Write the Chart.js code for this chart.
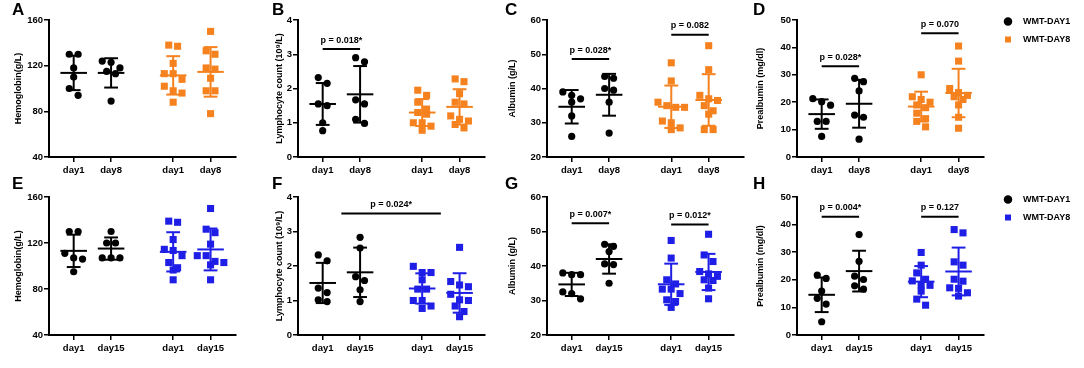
<!DOCTYPE html>
<html>
<head>
<meta charset="utf-8">
<script src="https://cdn.jsdelivr.net/npm/chart.js@4.4.0/dist/chart.umd.min.js"></script>
<style>
  body { margin: 0; width: 1084px; height: 368px; background: #fff; position: relative; overflow: hidden; }
  canvas { position: absolute; }
  .tag { position: absolute; font: bold 17px/17px "Liberation Sans", Arial, sans-serif; color: #000; }
</style>
</head>
<body>
<script>
// categories and series
const days8 = ['day1', 'day8', 'day1', 'day8'];
const days15 = ['day1', 'day15', 'day1', 'day15'];
const seriesNames = ['WMT-DAY1', 'WMT-DAY8'];

// each panel: [group1 day1, group1 dayN, group2 day1, group2 dayN]
const hemoglobinDay8 = [
    [130, 130, 118, 110, 100, 94],
    [123, 124, 118, 115, 113, 89],
    [138, 137, 122, 113, 113, 108, 102, 98, 96, 88],
    [150, 133, 130, 118, 117, 109, 98, 98, 78]
];
const lymphocyteDay8 = [
    [2.32, 2.15, 1.55, 1.5, 1.0, 0.77],
    [2.9, 2.78, 1.67, 1.55, 1.1, 0.98],
    [1.95, 1.8, 1.6, 1.4, 1.3, 1.25, 1.0, 1.0, 0.9, 0.78],
    [2.28, 2.2, 1.85, 1.6, 1.55, 1.2, 1.1, 1.05, 0.95, 0.85]
];
const albuminDay8 = [
    [39, 38, 37, 36, 32, 26],
    [43.5, 43, 40, 39.5, 36, 27],
    [47.5, 42.2, 36, 35, 34.5, 34.5, 30.5, 30, 28.5, 28],
    [52.5, 45.5, 38, 37, 36.5, 35, 33.5, 32.5, 28, 28]
];
const prealbuminDay8 = [
    [21.3, 20.2, 18.9, 13, 13, 7.5],
    [28.7, 27.5, 24.1, 15.3, 14.5, 6.5],
    [30, 22, 21, 20, 19, 18, 16, 14, 13, 11],
    [40.5, 35, 25, 23.5, 22.5, 22, 21, 19, 14.5, 10.5]
];
const hemoglobinDay15 = [
    [130, 130, 111, 106, 107, 95],
    [130, 120, 120, 107, 107, 107],
    [139, 138, 123, 114.5, 113.5, 109, 103, 98.5, 96.5, 88],
    [150, 132, 129, 119, 109, 109, 104, 103, 101, 88]
];
const lymphocyteDay15 = [
    [2.32, 2.15, 1.36, 1.23, 1.02, 0.97],
    [2.83, 2.52, 1.69, 1.58, 1.31, 0.97],
    [1.99, 1.81, 1.81, 1.6, 1.33, 1.33, 1.0, 1.0, 0.84, 0.77],
    [2.54, 1.55, 1.45, 1.4, 1.18, 1.02, 1.0, 0.84, 0.68, 0.53]
];
const albuminDay15 = [
    [38, 37.5, 37.5, 32.5, 32, 30.5],
    [46.3, 45.7, 44.2, 40.6, 40.4, 35],
    [47.4, 42.3, 36, 34.8, 33.3, 33.3, 32, 30.2, 29.7, 28],
    [49.2, 43.2, 41.3, 38.4, 37.7, 37, 36, 35.8, 33.6, 30.5]
];
const prealbuminDay15 = [
    [21.7, 20.5, 15.9, 13.3, 11.2, 4.8],
    [36.4, 26.7, 21.3, 20.1, 17.8, 16.6],
    [29.9, 25.3, 22.5, 20.2, 19.6, 18.1, 18, 15.9, 13, 10.8],
    [38.2, 37, 26.5, 25.3, 20.2, 19.5, 17.1, 16.9, 15.3, 14.1]
];

// significance brackets: group index from/to (fractional = between groups), height in axis units
const pLymph8 = [{ from: 0, to: 1, y: 3.15, text: 'p = 0.018*' }];
const pAlb8 = [{ from: 0, to: 1, y: 48.6, text: 'p = 0.028*' }, { from: 2, to: 3, y: 55.7, text: 'p = 0.082' }];
const pPre8 = [{ from: 0, to: 1, y: 33.1, text: 'p = 0.028*' }, { from: 2, to: 3, y: 45.2, text: 'p = 0.070' }];
const pLymph15 = [{ from: 0.5, to: 2.5, y: 3.52, text: 'p = 0.024*' }];
const pAlb15 = [{ from: 0, to: 1, y: 52.4, text: 'p = 0.007*' }, { from: 2, to: 3, y: 52.0, text: 'p = 0.012*' }];
const pPre15 = [{ from: 0, to: 1, y: 42.8, text: 'p = 0.004*' }, { from: 2, to: 3, y: 42.8, text: 'p = 0.127' }];

const ORANGE = '#F5821F';
const BLUE = '#1E1EE6';
const FONT = '"Liberation Sans", Arial, sans-serif';

// layout
const axisX = [49, 298, 547, 797];
const titleX = [18, 279, 512, 760];
const plotW = [190, 190, 200, 190, 190, 190, 190, 190];
const rowTop = [20, 197];
const rowBottom = [157, 335];
const PAD_TOP = 20;
const X_AXIS_H = 24;
const TITLE_LH = 10.8;
const XPOS = [0.66, 1.66, 3.32, 4.32];
const UNIT_PX = 38;
const SPREAD = 9 / UNIT_PX;
const MEAN_HALF = 13.5 / UNIT_PX;
const CAP_HALF = 7 / UNIT_PX;

const panels = [
    { tag: 'A', values: hemoglobinDay8, labels: days8, title: 'Hemoglobin(g/L)', min: 40, max: 160, step: 40, accent: ORANGE, p: [] },
    { tag: 'B', values: lymphocyteDay8, labels: days8, title: 'Lymphocyte count (10⁹/L)', min: 0, max: 4, step: 1, accent: ORANGE, p: pLymph8 },
    { tag: 'C', values: albuminDay8, labels: days8, title: 'Albumin (g/L)', min: 20, max: 60, step: 10, accent: ORANGE, p: pAlb8 },
    { tag: 'D', values: prealbuminDay8, labels: days8, title: 'Prealbumin (mg/dl)', min: 0, max: 50, step: 10, accent: ORANGE, p: pPre8 },
    { tag: 'E', values: hemoglobinDay15, labels: days15, title: 'Hemoglobin(g/L)', min: 40, max: 160, step: 40, accent: BLUE, p: [] },
    { tag: 'F', values: lymphocyteDay15, labels: days15, title: 'Lymphocyte count (10⁹/L)', min: 0, max: 4, step: 1, accent: BLUE, p: pLymph15 },
    { tag: 'G', values: albuminDay15, labels: days15, title: 'Albumin (g/L)', min: 20, max: 60, step: 10, accent: BLUE, p: pAlb15 },
    { tag: 'H', values: prealbuminDay15, labels: days15, title: 'Prealbumin (mg/dl)', min: 0, max: 50, step: 10, accent: BLUE, p: pPre15 }
];
const tagX = [12, 272, 505, 753];
const tagY = [1, 175];

Chart.defaults.color = '#000';
Chart.defaults.font.family = FONT;

const mean = a => a.reduce((s, v) => s + v, 0) / a.length;
const sd = a => {
    const m = mean(a);
    return Math.sqrt(a.reduce((s, v) => s + (v - m) * (v - m), 0) / (a.length - 1));
};
const xAt = k => {
    const i = Math.floor(k), f = k - i;
    return f ? XPOS[i] + f * (XPOS[i + 1] - XPOS[i]) : XPOS[i];
};

// side-by-side placement of points that would overlap (like a column scatter)
function spread(values, pxPerUnit) {
    const order = values.map((v, i) => i).sort((a, b) => values[b] - values[a]);
    const off = values.map(() => 0);
    let row = [];
    const flush = () => {
        row.forEach((k, j) => { off[k] = (j - (row.length - 1) / 2) * SPREAD; });
        row = [];
    };
    order.forEach(k => {
        if (row.length && (values[row[0]] - values[k]) * pxPerUnit > 7) flush();
        row.push(k);
    });
    flush();
    return off;
}

const seg = (x1, y1, x2, y2, color) => ({
    type: 'scatter', showLine: true, data: [{ x: x1, y: y1 }, { x: x2, y: y2 }],
    borderColor: color, borderWidth: 2, pointRadius: 0, pointHoverRadius: 0
});

const pText = {
    id: 'pText',
    afterDatasetsDraw(chart, args, opts) {
        const { ctx, scales: { x, y } } = chart;
        ctx.save();
        ctx.font = 'bold 9px ' + FONT;
        ctx.fillStyle = '#000';
        ctx.textAlign = 'center';
        ctx.textBaseline = 'alphabetic';
        (opts.items || []).forEach(p => {
            const cx = (x.getPixelForValue(xAt(p.from)) + x.getPixelForValue(xAt(p.to))) / 2;
            ctx.fillText(p.text, cx, y.getPixelForValue(p.y) - 6.5);
        });
        ctx.restore();
    }
};

function axisGrid() {
    return { drawOnChartArea: false, tickLength: 5, color: '#000', lineWidth: 1.5 };
}

panels.forEach((p, n) => {
    const col = n % 4, row = Math.floor(n / 4);
    const left = Math.round(titleX[col] - TITLE_LH / 2);
    const yw = axisX[col] - left;
    const plotH = rowBottom[row] - rowTop[row];
    const canvas = document.createElement('canvas');
    canvas.width = yw + plotW[n] + 2;
    canvas.height = PAD_TOP + plotH + X_AXIS_H;
    canvas.style.left = left + 'px';
    canvas.style.top = (rowTop[row] - PAD_TOP) + 'px';
    document.body.appendChild(canvas);

    const tag = document.createElement('div');
    tag.className = 'tag';
    tag.textContent = p.tag;
    tag.style.left = tagX[col] + 'px';
    tag.style.top = tagY[row] + 'px';
    document.body.appendChild(tag);

    const pxPerUnit = plotH / (p.max - p.min);
    const datasets = [];
    // error bars (mean ± SD) first so they sit on top of the points
    p.values.forEach((vals, g) => {
        const color = g < 2 ? '#000' : p.accent;
        const m = mean(vals), s = sd(vals), x = XPOS[g];
        datasets.push(seg(x - MEAN_HALF, m, x + MEAN_HALF, m, color));
        datasets.push(seg(x - CAP_HALF, m + s, x + CAP_HALF, m + s, color));
        datasets.push(seg(x - CAP_HALF, m - s, x + CAP_HALF, m - s, color));
        datasets.push(seg(x, m - s, x, m + s, color));
    });
    p.p.forEach(b => datasets.push(seg(xAt(b.from), b.y, xAt(b.to), b.y, '#000')));
    p.values.forEach((vals, g) => {
        const color = g < 2 ? '#000' : p.accent;
        const off = spread(vals, pxPerUnit);
        datasets.push({
            type: 'scatter',
            data: vals.map((v, i) => ({ x: XPOS[g] + off[i], y: v })),
            pointStyle: g < 2 ? 'circle' : 'rect',
            pointRadius: g < 2 ? 3.6 : 5,
            pointHoverRadius: g < 2 ? 3.6 : 5,
            backgroundColor: color,
            borderWidth: 0
        });
    });

    new Chart(canvas, {
        type: 'scatter',
        data: { datasets },
        plugins: [pText],
        options: {
            responsive: false,
            animation: false,
            events: [],
            layout: { padding: { top: PAD_TOP, right: 2, left: 0, bottom: 0 } },
            plugins: { legend: { display: false }, tooltip: { enabled: false }, pText: { items: p.p } },
            scales: {
                x: {
                    type: 'linear', min: 0, max: plotW[n] / UNIT_PX,
                    afterBuildTicks: s => { s.ticks = XPOS.map(v => ({ value: v })); },
                    afterFit: s => { s.height = X_AXIS_H; s.paddingLeft = 0; s.paddingRight = 0; },
                    ticks: { callback: (v, i) => p.labels[i], autoSkip: false, maxRotation: 0, padding: 3,
                             font: { size: 9.5, weight: 'bold' } },
                    grid: axisGrid(),
                    border: { color: '#000', width: 2 }
                },
                y: {
                    min: p.min, max: p.max,
                    afterFit: s => { s.width = yw; s.paddingTop = 0; s.paddingBottom = 0; },
                    ticks: { stepSize: p.step, padding: 1, font: { size: 9.5, weight: 'bold' } },
                    grid: axisGrid(),
                    border: { color: '#000', width: 2 },
                    title: { display: true, text: p.title, padding: 0, font: { size: 9, weight: 'bold' } }
                }
            }
        }
    });
});

// legends on the right of each row
function makeLegend(accent, top) {
    const canvas = document.createElement('canvas');
    canvas.width = 88;
    canvas.height = 70;
    canvas.style.left = '996px';
    canvas.style.top = top + 'px';
    document.body.appendChild(canvas);
    new Chart(canvas, {
        type: 'scatter',
        data: {
            datasets: seriesNames.map((name, i) => ({
                label: '   ' + name,
                data: [],
                pointStyle: i ? 'rect' : 'circle',
                backgroundColor: i ? accent : '#000',
                borderWidth: 0
            }))
        },
        options: {
            responsive: false,
            animation: false,
            events: [],
            scales: { x: { display: false }, y: { display: false } },
            plugins: {
                tooltip: { enabled: false },
                legend: {
                    position: 'top', align: 'start',
                    labels: { usePointStyle: true, boxWidth: 6, boxHeight: 6, padding: 9,
                              font: { size: 9, weight: 'bold' }, color: '#000' }
                }
            }
        }
    });
}
makeLegend(ORANGE, 8);
makeLegend(BLUE, 186);
</script>
</body>
</html>
